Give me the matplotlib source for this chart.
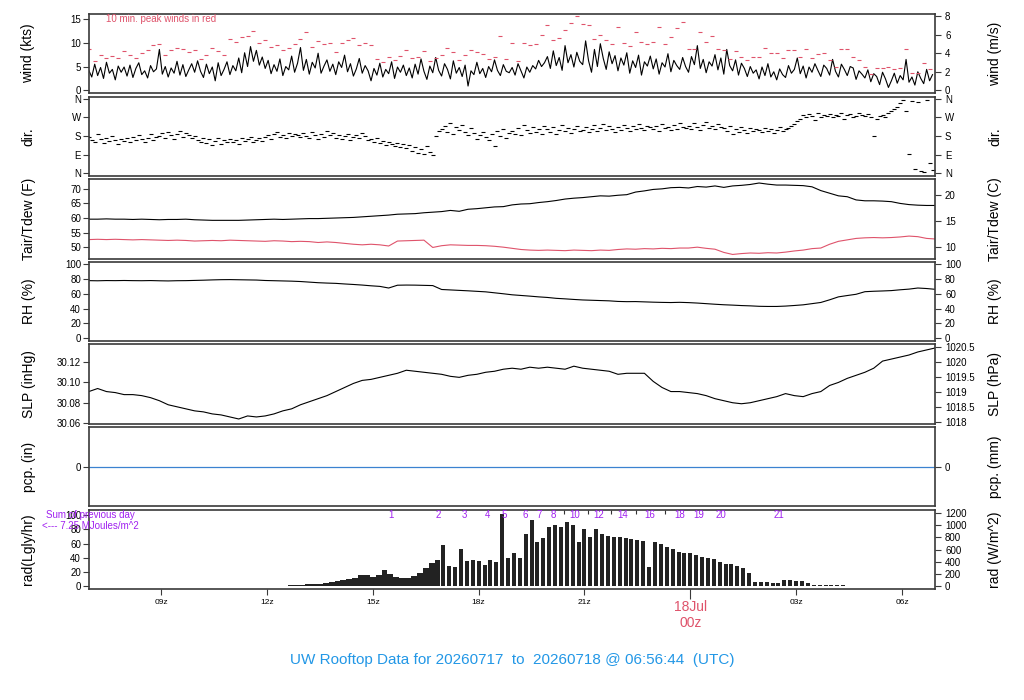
import numpy as np
import matplotlib
matplotlib.use('Agg')
import matplotlib.pyplot as plt
from matplotlib.transforms import blended_transform_factory

plt.rcParams['font.family'] = ['Liberation Sans', 'DejaVu Sans']

# time window in hours after 17 Jul 00z
t_start = 6.946
t_end = 30.946

# 5-minute wind speed (kts) from 06:57z
wind_kts = [
    4.2, 2.8, 5.5, 3.1, 4.8, 2.5, 5.9, 3.6, 4.4, 2.2, 5.1, 3.8,
    4.9, 3.0, 5.3, 2.7, 4.6, 5.8, 3.3, 4.1, 2.6, 5.2, 3.9, 4.5,
    8.6, 3.4, 5.0, 2.8, 4.7, 3.6, 6.1, 3.2, 5.4, 2.9, 4.3, 5.6,
    3.8, 6.2, 4.0, 2.7, 5.5, 3.5, 4.9, 2.0, 5.8, 3.1, 4.4, 6.0,
    3.3, 5.2, 4.1, 6.8, 3.7, 7.9, 5.0, 9.2, 6.1, 8.4, 5.3, 7.0,
    4.6, 6.3, 3.5, 5.4, 4.0, 6.6, 3.1, 5.0, 4.3, 7.2, 3.8, 5.7,
    9.0, 4.2, 6.5, 3.4, 5.9, 4.7, 7.8, 3.6, 5.1, 6.4, 4.0, 5.5,
    3.3, 6.0, 4.8, 7.4, 3.9, 5.6, 3.0, 4.5, 6.7, 3.6, 5.2, 4.1,
    2.0, 4.6, 3.2, 5.7, 2.8, 4.4, 3.5, 6.0, 2.5, 4.9, 3.8, 5.3,
    3.1, 4.7, 2.6, 5.5, 3.4, 6.6, 4.0, 2.3, 5.1, 3.7, 6.9, 4.2,
    3.0, 5.6, 4.4, 2.4, 6.2, 3.6, 4.8, 2.9, 5.3, 0.9, 4.1, 3.3,
    5.9, 3.5, 4.6, 2.7, 5.0, 3.9, 6.4, 4.2, 3.1, 5.4, 4.0, 3.7,
    4.8, 3.2, 5.6, 4.1, 2.6, 4.9, 3.8, 5.2, 4.5, 6.3, 5.0, 5.8,
    7.1, 4.6, 8.3, 5.2, 6.9, 4.2, 9.4, 5.8, 7.5, 4.9, 8.0, 6.1,
    5.4, 10.4, 6.2, 3.8, 8.6, 5.0, 9.8, 6.7, 4.4, 8.1, 5.6, 7.3,
    4.1, 6.8, 5.3, 7.9, 3.6, 6.2, 4.8, 7.4, 3.2, 6.0, 5.1, 7.2,
    4.5, 6.6, 3.4, 5.8, 4.9, 7.7, 3.9, 6.3, 5.2, 4.4, 6.9, 5.0,
    3.8, 7.1, 5.4, 9.4, 4.6, 6.5, 3.7, 6.0, 5.1, 7.5, 4.3, 6.8,
    3.4, 8.6, 5.2, 4.1, 6.4, 3.2, 5.7, 4.6, 2.9, 5.0, 3.6, 4.3,
    2.4, 4.9, 3.1, 5.6, 2.8, 3.9, 2.2, 4.5, 3.3, 2.7, 5.2, 3.6,
    4.4, 6.8, 3.5, 5.1, 2.6, 4.9, 3.8, 5.6, 4.2, 2.9, 5.3, 4.6,
    3.2, 6.5, 4.0, 2.8, 5.5, 4.4, 3.1, 5.0, 4.7, 2.3, 4.1, 3.4,
    2.6, 4.3, 1.8, 3.5, 2.9, 1.2, 3.8, 2.4, 0.6, 2.0, 3.6, 1.5,
    3.1, 2.2, 6.5, 1.7, 2.8, 1.1, 3.9, 2.5, 1.4, 4.4, 2.0, 3.3,
]

# 10-minute peak winds (kts)
peak_kts = [
    8.6, 6.2, 7.5, 6.9, 7.2, 6.8,
    8.3, 7.4, 6.9, 7.9, 8.5, 9.6,
    9.8, 7.5, 8.5, 8.9, 8.6, 8.0,
    8.5, 6.5, 7.5, 9.0, 8.2, 7.4,
    10.8, 10.2, 11.2, 11.4, 12.4, 10.0,
    10.5, 9.2, 9.6, 8.5, 9.0, 9.8,
    10.8, 12.2, 9.1, 10.3, 9.8, 9.9,
    8.1, 9.9, 10.6, 11.0, 9.5, 9.9,
    9.6, 6.5, 6.0, 7.0, 6.4, 7.2,
    8.5, 6.8, 7.0, 8.3, 6.1, 6.9,
    7.5, 9.0, 8.0, 6.4, 7.4, 8.5,
    8.1, 7.7, 6.6, 7.0, 11.4, 6.5,
    9.9, 6.1, 10.0, 9.6, 9.8, 11.6,
    13.7, 10.6, 10.9, 12.7, 14.1, 15.6,
    13.9, 13.8, 10.8, 11.7, 10.5, 9.8,
    13.3, 10.0, 9.4, 12.2, 10.1, 9.8,
    10.1, 13.3, 9.7, 11.2, 13.1, 14.3,
    8.7, 8.6, 12.2, 10.1, 11.4, 8.6,
    8.4, 6.6, 8.2, 7.0, 6.4, 7.0,
    7.1, 8.9, 7.8, 7.9, 6.8, 8.4,
    8.4, 7.0, 8.6, 6.8, 7.6, 7.8,
    6.4, 4.9, 8.6, 8.6, 7.0, 6.4,
    4.9, 3.5, 4.7, 4.7, 4.9, 4.5,
    4.7, 8.7, 3.7, 3.7, 5.8, 4.5,
]

# 5-minute wind direction (deg)
wind_dir = [
    175, 160, 150, 190, 165, 145, 170, 155, 180, 160, 140, 165,
    155, 170, 150, 175, 160, 185, 165, 150, 170, 190, 160, 175,
    180, 195, 170, 200, 185, 165, 190, 205, 175, 195, 185, 170,
    180, 160, 150, 170, 145, 165, 135, 155, 170, 140, 160, 150,
    165, 150, 160, 140, 170, 155, 165, 175, 150, 160, 170, 155,
    175, 185, 165, 190, 200, 175, 185, 170, 195, 180, 190, 185,
    175, 195, 180, 170, 200, 185, 165, 190, 175, 205, 185, 195,
    170, 185, 165, 180, 190, 160, 175, 185, 170, 195, 180, 160,
    165, 150, 170, 145, 155, 135, 150, 140, 130, 145, 125, 140,
    120, 135, 110, 125, 100, 115, 95, 130, 105, 90, 180, 205,
    215, 230, 200, 245, 190, 225, 210, 235, 200, 185, 220, 195,
    165, 185, 200, 175, 160, 190, 130, 205, 180, 215, 170, 195,
    205, 190, 220, 185, 235, 210, 195, 225, 200, 215, 190, 230,
    215, 200, 225, 190, 210, 235, 205, 220, 195, 215, 230, 205,
    210, 225, 200, 215, 235, 205, 220, 240, 210, 230, 215, 200,
    225, 210, 235, 220, 205, 230, 215, 240, 220, 210, 230, 225,
    215, 230, 205, 240, 220, 225, 210, 235, 215, 245, 225, 220,
    230, 215, 245, 225, 210, 235, 250, 220, 230, 215, 240, 225,
    220, 205, 230, 190, 215, 200, 225, 210, 195, 220, 205, 215,
    210, 200, 220, 205, 215, 195, 210, 225, 205, 215, 220, 230,
    240, 255, 265, 280, 270, 285, 275, 260, 290, 270, 280, 275,
    285, 270, 280, 275, 290, 265, 280, 285, 270, 275, 290, 280,
    275, 285, 270, 180, 265, 275, 280, 270, 290, 300, 310, 320,
    340, 355, 300, 95, 350, 20, 345, 10, 5, 355, 50, 15,
]

# 15-minute air temperature and dew point (F)
tair_f = [
    59.6, 59.6, 59.7, 59.6, 59.6, 59.5, 59.6, 59.5,
    59.4, 59.5, 59.5, 59.6, 59.4, 59.3, 59.2, 59.2,
    59.2, 59.2, 59.3, 59.4, 59.5, 59.6, 59.5, 59.6,
    59.7, 59.8, 59.8, 59.9, 60.0, 60.1, 60.2, 60.4,
    60.6, 60.8, 61.0, 61.3, 61.4, 61.5, 61.8, 62.0,
    62.2, 62.6, 62.3, 63.0, 63.2, 63.5, 63.8, 63.9,
    64.5, 64.8, 64.9, 65.3, 65.6, 66.0, 66.5, 66.8,
    67.0, 67.3, 67.6, 67.5, 67.8, 68.0, 68.9, 69.3,
    69.8, 70.0, 70.4, 70.5, 70.3, 70.8, 70.6, 71.0,
    70.5, 71.0, 71.2, 71.5, 72.0, 71.6, 71.3, 71.3,
    71.2, 71.1, 70.7, 69.4, 68.5, 67.6, 67.3, 66.2,
    65.9, 65.9, 65.8, 65.6, 65.0, 64.6, 64.4, 64.3,
    64.3,
]
tdew_f = [
    52.6, 52.7, 52.6, 52.7, 52.6, 52.5, 52.6, 52.5,
    52.4, 52.3, 52.4, 52.3, 52.1, 52.2, 52.3, 52.2,
    52.4, 52.3, 52.2, 52.1, 52.0, 52.2, 52.1, 51.9,
    52.0, 51.9, 51.6, 51.8, 51.6, 51.3, 51.0, 50.8,
    51.0, 50.8, 50.4, 52.1, 52.2, 52.3, 52.4, 49.9,
    50.5, 50.8, 50.7, 50.6, 50.6, 50.5, 50.3, 50.0,
    49.6, 49.2, 49.0, 48.9, 49.0, 48.9, 48.8, 49.0,
    48.9, 48.8, 49.0, 48.9, 49.2, 49.4, 49.3, 49.5,
    49.4, 49.6, 49.5, 49.7, 49.7, 50.0, 49.6, 49.3,
    48.2, 47.5, 47.8, 48.0, 47.9, 48.1, 48.0, 48.3,
    48.7, 49.0, 49.5, 49.7, 51.0, 52.0, 52.5, 53.0,
    53.2, 53.3, 53.2, 53.3, 53.5, 53.8, 53.6, 53.0,
    52.8,
]

# 15-minute relative humidity (%)
rh_pct = [
    78.0, 77.8, 78.1, 78.0, 78.2, 78.0, 77.9, 78.1,
    77.8, 77.6, 77.9, 78.0, 78.3, 78.6, 79.0, 79.3,
    79.4, 79.2, 79.0, 78.8, 78.2, 77.9, 77.6, 77.3,
    76.8, 76.0, 75.2, 74.7, 74.3, 73.5, 72.8, 72.0,
    71.0, 70.2, 68.0, 71.8, 72.0, 71.9, 71.6, 71.3,
    66.0, 65.4, 64.8, 64.2, 63.5, 62.8, 61.5, 60.2,
    58.8, 57.9, 57.0, 56.0, 55.2, 54.0, 53.3, 52.5,
    51.8, 51.4, 51.0, 50.6, 49.8, 49.5, 49.6, 49.2,
    48.8, 48.5, 48.3, 48.6, 48.2, 47.6, 46.8, 46.0,
    45.3, 44.8, 44.2, 43.8, 43.2, 43.0, 43.0, 43.5,
    44.3, 45.2, 46.8, 48.4, 52.0, 56.0, 57.8, 59.5,
    63.0, 63.6, 64.0, 64.5, 65.6, 66.5, 68.0, 67.3,
    66.2,
]

# 15-minute sea level pressure (inHg)
slp_inhg = [
    30.091, 30.094, 30.091, 30.090, 30.088, 30.088, 30.087, 30.085,
    30.082, 30.078, 30.076, 30.074, 30.072, 30.071, 30.069, 30.068,
    30.066, 30.064, 30.067, 30.066, 30.067, 30.069, 30.072, 30.074,
    30.078, 30.081, 30.084, 30.087, 30.091, 30.095, 30.099, 30.102,
    30.103, 30.105, 30.107, 30.109, 30.112, 30.111, 30.110, 30.109,
    30.108, 30.106, 30.105, 30.107, 30.108, 30.110, 30.111, 30.113,
    30.114, 30.113, 30.115, 30.114, 30.115, 30.114, 30.113, 30.116,
    30.114, 30.113, 30.112, 30.111, 30.108, 30.109, 30.109, 30.109,
    30.101, 30.095, 30.091, 30.091, 30.090, 30.089, 30.087, 30.084,
    30.082, 30.080, 30.079, 30.080, 30.082, 30.084, 30.086, 30.089,
    30.087, 30.086, 30.089, 30.091, 30.097, 30.100, 30.104, 30.107,
    30.110, 30.114, 30.121, 30.123, 30.125, 30.127, 30.130, 30.132,
    30.134,
]

# 10-minute solar radiation (Langley/hr) from 12:00z
rad_lgly = [
    0, 0, 0.5, 0.7, 0.9, 1.1,
    2.0, 2.3, 2.8, 3.5, 4.5, 5.5,
    6.5, 8.5, 9.5, 11, 16, 15,
    13, 16, 22, 17, 13, 11.5,
    11, 14.5, 18, 26, 32, 37,
    58, 28, 27, 53, 36, 37,
    36, 30, 37, 34, 102, 39,
    46, 39, 74, 93, 62, 68,
    84, 87, 84, 90, 86, 62,
    81, 69, 81, 73, 71, 70,
    69, 68.5, 66, 65, 64, 27,
    62, 60, 55, 52, 48, 46,
    46, 44, 40.4, 39.5, 38, 34,
    31, 31, 28, 25, 18, 5,
    5, 5, 4.2, 4.2, 7.9, 7.9,
    7.4, 7.4, 4.2, 1.9, 1.9, 1.9,
    1.9, 0.9, 0.9, 0,
]

# hour counters written above the radiation panel
rad_marks = ['1', '2', '3', '4', '5', '6', '7', '8', '10', '12', '14', '16', '18', '19', '20', '21']
rad_mark_hours = [15.53, 16.86, 17.6, 18.25, 18.73, 19.33, 19.73, 20.13, 20.72, 21.4,
                  22.08, 22.85, 23.7, 24.24, 24.87, 26.5]
rad_tick_hours = [20.43, 21.09, 21.75, 22.47, 23.27]

hour_ticks = [9, 12, 15, 18, 21, 27, 30]
hour_labels = ['09z', '12z', '15z', '18z', '21z', '03z', '06z']

RED = '#DF536B'
BLUE = '#2297E6'
PURPLE = '#A020F0'
FRAME = '#3a3a3a'

wind_t = 6.95 + np.arange(len(wind_kts)) / 12
peak_t = 6.95 + np.arange(len(peak_kts)) / 6
dir_t = 6.95 + np.arange(len(wind_dir)) / 12
q_t = 6.95 + np.arange(len(tair_f)) / 4
rad_step = 1 / 6
rad_t = 12.0 + np.arange(len(rad_lgly)) * rad_step

fig = plt.figure(figsize=(10.24, 7.0), dpi=100)
gs = fig.add_gridspec(7, 1, left=0.0866, right=0.9134, top=0.98, bottom=0.1586, hspace=0.0416)
axes = [fig.add_subplot(gs[i]) for i in range(7)]


def style(ax):
    ax.set_xlim(t_start, t_end)
    for s in ax.spines.values():
        s.set_color(FRAME)
        s.set_linewidth(1.2)
    ax.tick_params(axis='y', direction='out', length=4, width=0.8, color=FRAME,
                   labelsize=7, pad=1.5)
    ax.tick_params(axis='x', bottom=False, labelbottom=False)


def right_axis(ax, lim, ticks, labels):
    r = ax.twinx()
    r.set_ylim(lim)
    r.set_yticks(ticks)
    r.set_yticklabels(labels)
    for s in r.spines.values():
        s.set_visible(False)
    r.tick_params(axis='y', direction='out', length=4, width=0.8, color=FRAME,
                  labelsize=7, pad=3)
    return r


def side_labels(ax, left, right):
    tr = blended_transform_factory(fig.transFigure, ax.transAxes)
    ax.text(28.5 / 1024, 0.5, left, transform=tr, rotation=90, ha='center', va='center', fontsize=10)
    ax.text(995 / 1024, 0.5, right, transform=tr, rotation=90, ha='center', va='center', fontsize=10)


for ax in axes:
    style(ax)

# wind
ax = axes[0]
ax.plot(wind_t, wind_kts, color='black', lw=0.8)
ax.plot(peak_t, peak_kts, ls='none', marker='_', ms=3, mew=0.8, color=RED)
ax.set_ylim(-0.63, 16.05)
ax.set_yticks([0, 5, 10, 15])
right_axis(ax, (-0.63 / 1.94384, 16.05 / 1.94384), [0, 2, 4, 6, 8], ['0', '2', '4', '6', '8'])
ax.text(0.0204, 0.937, '10 min. peak winds in red', transform=ax.transAxes, color=RED,
        fontsize=7, ha='left', va='center')
side_labels(ax, 'wind (kts)', 'wind (m/s)')

# direction
ax = axes[1]
ax.plot(dir_t, wind_dir, ls='none', marker='_', ms=2.8, mew=0.8, color='black')
ax.set_ylim(-13, 371)
dir_ticks = [0, 90, 180, 270, 360]
dir_labels = ['N', 'E', 'S', 'W', 'N']
ax.set_yticks(dir_ticks)
ax.set_yticklabels(dir_labels)
right_axis(ax, (-13, 371), dir_ticks, dir_labels)
side_labels(ax, 'dir.', 'dir.')

# temperature
ax = axes[2]
ax.plot(q_t, tair_f, color='black', lw=0.8)
ax.plot(q_t, tdew_f, color=RED, lw=0.8)
ax.set_ylim(46.1, 73.3)
ax.set_yticks([50, 55, 60, 65, 70])
right_axis(ax, ((46.1 - 32) / 1.8, (73.3 - 32) / 1.8), [10, 15, 20], ['10', '15', '20'])
side_labels(ax, 'Tair/Tdew (F)', 'Tair/Tdew (C)')

# humidity
ax = axes[3]
ax.plot(q_t, rh_pct, color='black', lw=0.8)
ax.set_ylim(-4.05, 103.5)
rh_ticks = [0, 20, 40, 60, 80, 100]
ax.set_yticks(rh_ticks)
right_axis(ax, (-4.05, 103.5), rh_ticks, [str(v) for v in rh_ticks])
side_labels(ax, 'RH (%)', 'RH (%)')

# pressure
ax = axes[4]
ax.plot(q_t, slp_inhg, color='black', lw=0.8)
ax.set_ylim(30.0593, 30.1374)
ax.set_yticks([30.06, 30.08, 30.10, 30.12])
ax.set_yticklabels(['30.06', '30.08', '30.10', '30.12'])
hpa_ticks = [1018, 1018.5, 1019, 1019.5, 1020, 1020.5]
right_axis(ax, (30.0593 * 33.8639, 30.1374 * 33.8639), hpa_ticks, ['%g' % v for v in hpa_ticks])
side_labels(ax, 'SLP (inHg)', 'SLP (hPa)')

# precipitation
ax = axes[5]
ax.axhline(0, color='#3b82d0', lw=0.9)
ax.set_ylim(-1, 1)
ax.set_yticks([0])
right_axis(ax, (-1, 1), [0], ['0'])
side_labels(ax, 'pcp. (in)', 'pcp. (mm)')

# radiation
ax = axes[6]
widths = np.where(rad_t < 17, rad_step, 0.68 * rad_step)
ax.bar(rad_t, rad_lgly, width=widths, color='#222222', linewidth=0)
ax.set_ylim(-4.2, 108)
ax.set_yticks([0, 20, 40, 60, 80, 100])
right_axis(ax, (-4.2 * 11.622, 108 * 11.622), [0, 200, 400, 600, 800, 1000, 1200],
           ['0', '200', '400', '600', '800', '1000', '1200'])
side_labels(ax, 'rad(Lgly/hr)', 'rad (W/m^2)')
for lab, h in zip(rad_marks, rad_mark_hours):
    ax.text(h, 100, lab, color=PURPLE, fontsize=7, ha='center', va='center')
ax.plot(rad_tick_hours, [105] * len(rad_tick_hours), ls='none', marker='|', ms=3, mew=0.8,
        color='#333333')
fig.text(90.8 / 1024, 1 - 515 / 700, 'Sum of previous day', color=PURPLE, fontsize=7,
         ha='center', va='center')
fig.text(90.8 / 1024, 1 - 526 / 700, '<--- 7.25 MJoules/m^2', color=PURPLE, fontsize=7,
         ha='center', va='center')

ax.tick_params(axis='x', bottom=True, labelbottom=True, direction='out', length=4, width=0.8,
               color=FRAME, labelsize=6, pad=3.5)
ax.set_xticks(hour_ticks)
ax.set_xticklabels(hour_labels)
ax.set_xticks([24], minor=True)
ax.set_xticklabels(['18Jul\n00z'], minor=True)
ax.tick_params(axis='x', which='minor', bottom=True, length=7, width=0.8, color=FRAME,
               labelsize=10, labelcolor=RED, pad=1)

fig.text(0.5, 1 - 660 / 700, 'UW Rooftop Data for 20260717  to  20260718 @ 06:56:44  (UTC)',
         color=BLUE, fontsize=11, ha='center', va='center')

fig.savefig('out.png', dpi=100)
